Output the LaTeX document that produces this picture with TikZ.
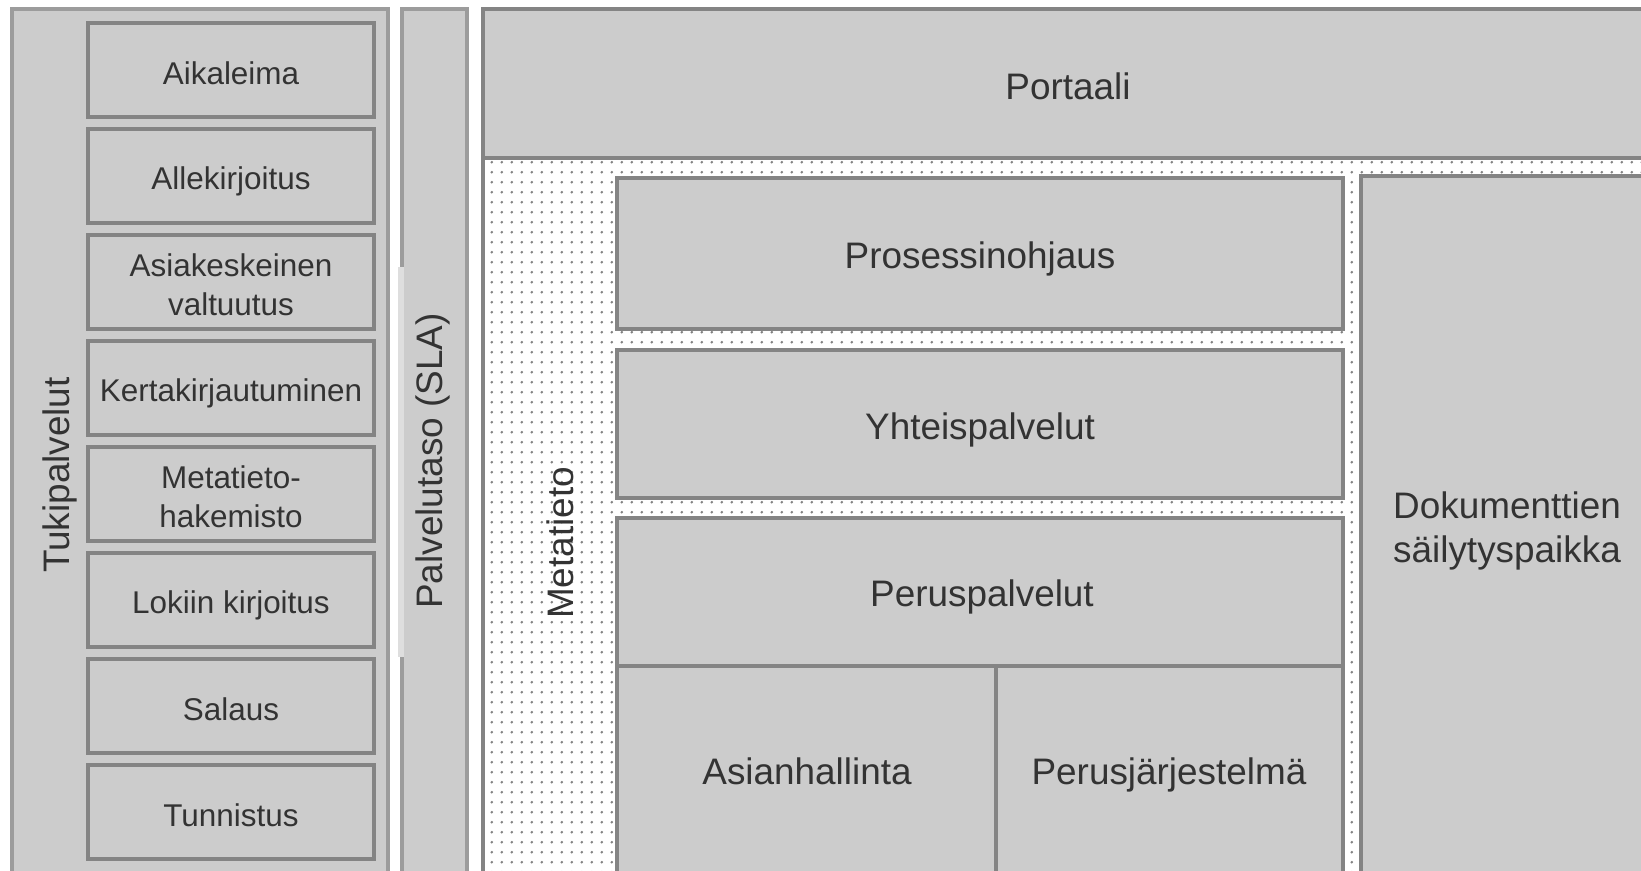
\documentclass[tikz,border=0pt]{standalone}
\usepackage{fontspec}
\setmainfont{Liberation Sans}
\usetikzlibrary{patterns.meta}
\definecolor{boxfill}{RGB}{204,204,204}
\definecolor{boxline}{RGB}{132,132,132}
\definecolor{outerline}{RGB}{156,156,156}
\definecolor{txt}{RGB}{51,51,51}
\definecolor{dotgray}{RGB}{130,130,130}

\begin{document}
\begin{tikzpicture}[x=0.02cm, y=-0.02cm,
    box/.style={fill=boxfill, draw=boxline, line width=2pt},
    outer/.style={fill=boxfill, draw=outerline, line width=1.8pt},
    small/.style={text=txt, align=center, font=\fontsize{17.9}{22}\selectfont},
    big/.style={text=txt, align=center, font=\fontsize{21}{25.5}\selectfont}]
        \clip (0,0) rectangle (1641,871);
        \fill[white] (0,0) rectangle (1641,871);
        % Tukipalvelut
        \draw[outer] (12,9) rectangle (388,890);
        \node[big, rotate=90] (tuki) at (60,475) {Tukipalvelut};
        \draw[box] (88,23) rectangle (374,117);
        \draw[box] (88,129) rectangle (374,223);
        \draw[box] (88,235) rectangle (374,329);
        \draw[box] (88,341) rectangle (374,435);
        \draw[box] (88,447) rectangle (374,541);
        \draw[box] (88,553) rectangle (374,647);
        \draw[box] (88,659) rectangle (374,753);
        \draw[box] (88,765) rectangle (374,859);
        \node[small] (aikaleima) at (231,73) {Aikaleima};
        \node[small] (allekirjoitus) at (231,181) {Allekirjoitus};
        \node[small] (valtuutus) at (231,285) {Asiakeskeinen\\valtuutus};
        \node[small] (kerta) at (231,393) {Kertakirjautuminen};
        \node[small] (hakemisto) at (231,497) {Metatieto-\\hakemisto};
        \node[small] (loki) at (231,605) {Lokiin kirjoitus};
        \node[small] (salaus) at (231,709) {Salaus};
        \node[small] (tunnistus) at (231,815) {Tunnistus};
        % Palvelutaso
        \draw[outer] (402,9) rectangle (467,890);
        \fill[black!13] (398,267) rectangle (404,657);
        \node[big, rotate=90] (palvelutaso) at (433,461) {Palvelutaso (SLA)};
        % Metatieto (pisteet)
        \fill[white] (483,158) rectangle (1660,890);
        \fill[pattern={Dots[distance=5.85pt, radius=0.85pt]}, pattern color=dotgray]
            (483,158) rectangle (1660,890);
        \draw[draw=boxline, line width=2pt] (483,9) rectangle (1653,890);
        \node[big, rotate=90] (metatieto) at (560,543) {Metatieto};
        % Portaali
        \draw[box] (483,9) rectangle (1653,158);
        \node[big] (portaali) at (1068,86) {Portaali};
        % palvelut
        \draw[box] (617,178) rectangle (1343,329);
        \draw[box] (617,350) rectangle (1343,498);
        \draw[box] (617,518) rectangle (1343,666);
        \draw[box] (617,666) rectangle (996,890);
        \draw[box] (996,666) rectangle (1343,890);
        \draw[box] (1361,176) rectangle (1660,890);
        \node[big] (prosessi) at (980,259) {Prosessinohjaus};
        \node[big] (yhteis) at (980,430) {Yhteispalvelut};
        \node[big] (perus) at (982,597) {Peruspalvelut};
        \node[big] (asian) at (807,771) {Asianhallinta};
        \node[big] (perusjarj) at (1169,775) {Perusjärjestelmä};
        \node[big] (dokumentit) at (1507,531) {Dokumenttien\\säilytyspaikka};
    \end{tikzpicture}
\end{document}
